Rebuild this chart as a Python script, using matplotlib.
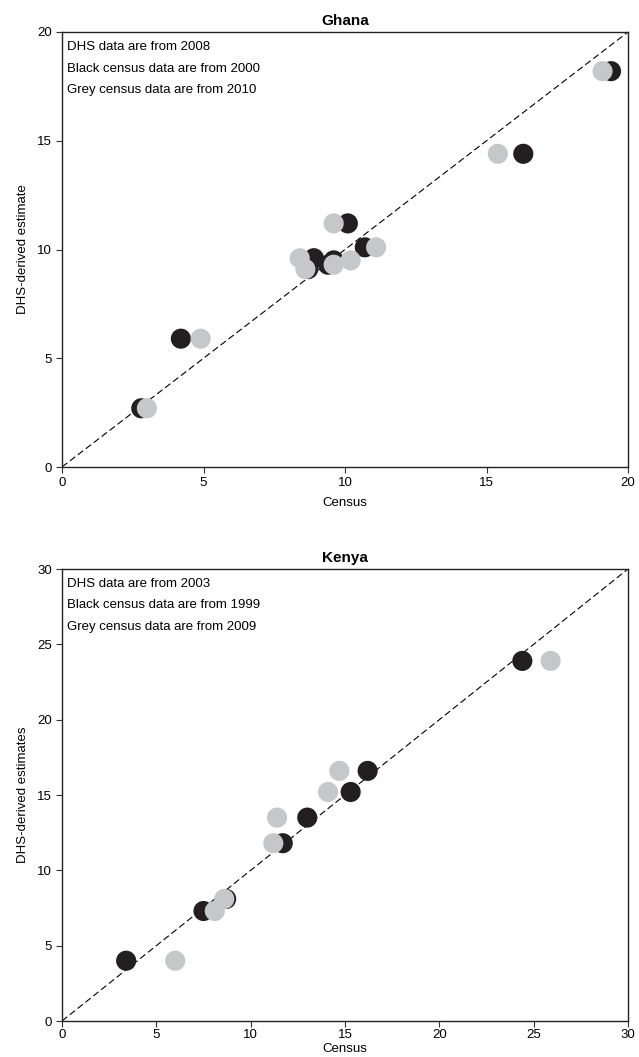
import matplotlib
matplotlib.use("Agg")
import matplotlib.pyplot as plt

plt.rcParams["font.family"] = ["Liberation Sans", "DejaVu Sans"]

# ---- Ghana data (DHS 2008 vs census 2000 / 2010) ----
ghana_dhs = [2.7, 5.9, 9.6, 9.1, 9.3, 9.5, 11.2, 10.1, 14.4, 18.2]
ghana_census_black = [2.8, 4.2, 8.9, 8.7, 9.4, 9.6, 10.1, 10.7, 16.3, 19.4]
ghana_census_grey = [3.0, 4.9, 8.4, 8.6, 9.6, 10.2, 9.6, 11.1, 15.4, 19.1]
ghana_notes = ["DHS data are from 2008",
               "Black census data are from 2000",
               "Grey census data are from 2010"]

# ---- Kenya data (DHS 2003 vs census 1999 / 2009) ----
kenya_dhs = [4.0, 7.3, 8.1, 11.8, 13.5, 15.2, 16.6, 23.9]
kenya_census_black = [3.4, 7.5, 8.7, 11.7, 13.0, 15.3, 16.2, 24.4]
kenya_census_grey = [6.0, 8.1, 8.6, 11.2, 11.4, 14.1, 14.7, 25.9]
kenya_notes = ["DHS data are from 2003",
               "Black census data are from 1999",
               "Grey census data are from 2009"]

BLACK = "#231f20"
GREY = "#c6c7c8"
W, H = 639, 1057


def draw_panel(ax, title, ylabel, lim, ticks, dhs, cb, cg, notes,
               tickpad, xlabelpad):
    # 1:1 reference line
    ax.plot([0, lim], [0, lim], color="black", lw=0.8, dashes=(6, 3), zorder=1)
    ax.scatter(cb, dhs, s=210, color=BLACK, edgecolors="none", zorder=2)
    ax.scatter(cg, dhs, s=210, color=GREY, edgecolors="none", zorder=3)

    ax.set_xlim(0, lim)
    ax.set_ylim(0, lim)
    ax.set_xticks(ticks)
    ax.set_yticks(ticks)
    ax.tick_params(direction="out", length=4, width=0.8, labelsize=9.5,
                   color="#333333", pad=3)
    ax.tick_params(axis="x", pad=tickpad)
    for sp in ax.spines.values():
        sp.set_linewidth(1.0)
        sp.set_color("#222222")

    ax.set_title(title, fontsize=11, fontweight="bold", pad=5)
    ax.set_xlabel("Census", fontsize=9.5, labelpad=xlabelpad)
    ax.set_ylabel(ylabel, fontsize=9.5, labelpad=6)

    for i, line in enumerate(notes):
        ax.annotate(line, xy=(0, 1), xycoords="axes fraction",
                    xytext=(5, -15 - i * 21.5), textcoords="offset pixels",
                    fontsize=9.5, ha="left", va="center")


fig = plt.figure(figsize=(W / 100, H / 100), dpi=100)

ax1 = fig.add_axes([62 / W, 1 - 467 / H, 566 / W, 435 / H])
draw_panel(ax1, "Ghana", "DHS-derived estimate", 20, [0, 5, 10, 15, 20],
           ghana_dhs, ghana_census_black, ghana_census_grey, ghana_notes, 3, 6)

ax2 = fig.add_axes([62 / W, 1 - 1021 / H, 566 / W, 452 / H])
draw_panel(ax2, "Kenya", "DHS-derived estimates", 30, [0, 5, 10, 15, 20, 25, 30],
           kenya_dhs, kenya_census_black, kenya_census_grey, kenya_notes, 2, 1)

fig.savefig("out.png", dpi=100)
plt.close(fig)
